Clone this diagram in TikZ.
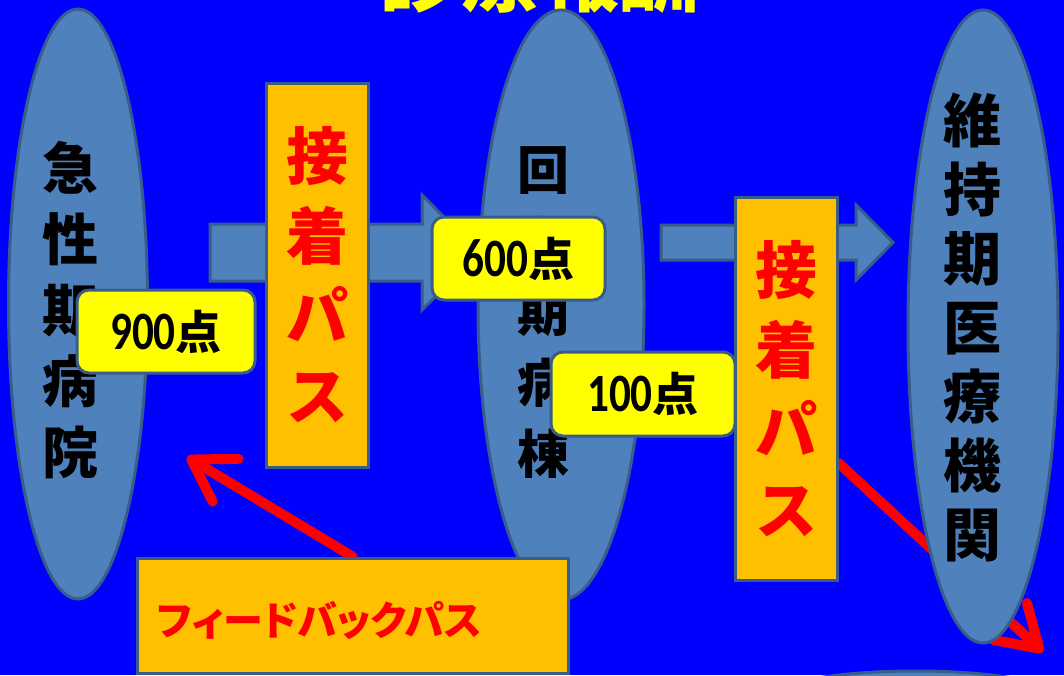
\documentclass[tikz,border=0pt]{standalone}
\usepackage{fontspec}
\newfontfamily\jp{Noto Sans CJK JP}
\newfontfamily\jpp[RawFeature=+palt]{Noto Sans CJK JP}
\newfontfamily\numfont{Carlito}
\usetikzlibrary{shapes.geometric,arrows.meta,calc}
\pgfdeclarelayer{back}
\pgfsetlayers{back,main}
\definecolor{bgblue}{HTML}{0000FF}
\definecolor{ellfill}{HTML}{4F81BD}
\definecolor{ellline}{HTML}{385D8A}
\definecolor{orangefill}{HTML}{FFC000}
\definecolor{yel}{HTML}{FFFF00}
\definecolor{pred}{HTML}{FF0000}
\tikzset{
  ell/.style={ellipse, fill=ellfill, draw=ellline, line width=3pt, inner sep=0pt},
  bigarrow/.style={fill=ellfill, draw=ellline, line width=3pt, line join=miter},
  pathbox/.style={rectangle, fill=orangefill, draw=ellline, line width=3pt, inner sep=0pt},
  ptsbox/.style={rectangle, rounded corners=12pt, fill=yel, draw=ellline, line width=3pt, inner sep=0pt},
  redarrow/.style={draw=pred, line width=10pt, line cap=round, -{Straight Barb[length=40pt,width=50pt,round]}},
  vtext/.style={align=center, inner sep=0pt},
}
\newcommand\ptslabel[1]{\scalebox{0.8}[1]{\numfont\bfseries\fontsize{54}{54}\selectfont #1}{\jp\bfseries\fontsize{46}{46}\selectfont 点}}
\begin{document}
\begin{tikzpicture}[x=1pt,y=-1pt]
\useasboundingbox (0,0) rectangle (1064,675);
\clip (0,0) rectangle (1064,675);
% title (cut off at top)
\node[anchor=base, text=yel, font=\jp\bfseries\fontsize{80}{80}\selectfont, inner sep=0pt] (title) at (539,5) {診療報酬};
% ellipses
\node[ell, minimum width=139pt, minimum height=590pt] (acute) at (78,304) {};
\node[ell, minimum width=166pt, minimum height=590pt] (recov) at (561,305) {};
\node[ell, minimum width=150pt, minimum height=633pt] (maint) at (983,326.5) {};
\node[ell, minimum width=300pt, minimum height=58pt] (extra) at (915,700) {};
\node[vtext, font=\jp\bfseries\fontsize{56}{71}\selectfont] (acuteT) at (70,310) {急\\性\\期\\病\\院};
\node[vtext, font=\jp\bfseries\fontsize{52}{71}\selectfont] (recovT) at (543,313) {回\\復\\期\\病\\棟};
\node[vtext, font=\jp\bfseries\fontsize{58}{69}\selectfont] (maintT) at (972,327) {維\\持\\期\\医\\療\\機\\関};
% orange path boxes
\node[pathbox, minimum width=102pt, minimum height=384pt, align=center, text=pred, font=\jp\bfseries\fontsize{62}{80}\selectfont] (ob1) at (317,275) {接\\着\\パ\\ス};
\node[pathbox, minimum width=102pt, minimum height=383pt, align=center, text=pred, font=\jp\bfseries\fontsize{62}{80}\selectfont] (ob2) at (786,388.5) {接\\着\\パ\\ス};
% yellow point boxes
\node[ptsbox, minimum width=178pt, minimum height=83pt] (p900) at (166,331.5) {\ptslabel{900}};
\node[ptsbox, minimum width=173pt, minimum height=83pt] (p600) at (518.5,258.5) {\ptslabel{600}};
\node[ptsbox, minimum width=184pt, minimum height=84pt] (p100) at (643,394) {\ptslabel{100}};
% feedback box
\node[pathbox, minimum width=431pt, minimum height=115pt] (fb) at (352.5,615.5) {};
\node[anchor=west, text=pred, font=\jpp\bfseries\fontsize{40}{40}\selectfont, inner sep=0pt] (fbT) at (157,620) {フィードバックパス};
\begin{pgfonlayer}{back}
\fill[bgblue] (0,0) rectangle (1064,675);
\path[bigarrow] (210,224) -- (422,224) -- (422,195) -- (479,252.5) -- (422,310) -- (422,281) -- (210,281) -- cycle;
\path[bigarrow] (661,225) -- (856,225) -- (856,205) -- (893,242.5) -- (856,280) -- (856,260) -- (661,260) -- cycle;
\coordinate (fbtip) at (187,457);
\coordinate (mtip) at (1043,652);
\draw[redarrow] (fb.north) -- (fbtip);
\draw[redarrow] ([yshift=-74.5pt]ob2.east) -- (mtip);
\end{pgfonlayer}
\end{tikzpicture}
\end{document}
